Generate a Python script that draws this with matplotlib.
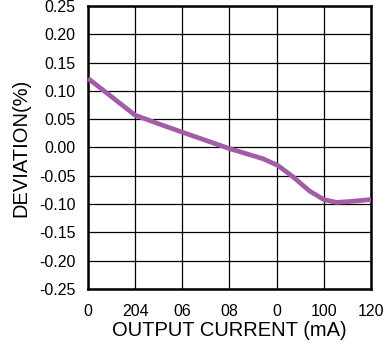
import numpy as np
import matplotlib
matplotlib.use('Agg')
import matplotlib.pyplot as plt

plt.rcParams['font.family'] = ['Liberation Sans', 'DejaVu Sans']

# 数据
current = [0, 6.5, 20, 30.5, 40, 60, 74.3, 80.6, 87, 94, 100, 105.4, 112.3, 120]
deviation = [0.122, 0.101, 0.057, 0.041, 0.027, -0.002, -0.020, -0.032, -0.052,
             -0.077, -0.092, -0.097, -0.095, -0.092]
x_ticks = [0, 20, 40, 60, 80, 100, 120]
x_labels = ['0', '204', '06', '08', '0', '100', '120']
y_ticks = [0.25, 0.20, 0.15, 0.10, 0.05, 0.00, -0.05, -0.10, -0.15, -0.20, -0.25]
y_labels = ['%.2f' % v for v in y_ticks]

fig = plt.figure(figsize=(3.86, 3.52), dpi=100)
ax = fig.add_axes([0.228, 0.179, 0.733, 0.804])
ax.plot(current, deviation, color='#A35CA8', linewidth=3.4,
        solid_capstyle='butt', solid_joinstyle='round', clip_on=False, zorder=3)

ax.set_xlim(0, 120)
ax.set_ylim(-0.25, 0.25)
ax.set_xticks(x_ticks)
ax.set_xticklabels(x_labels)
ax.set_yticks(y_ticks)
ax.set_yticklabels(y_labels)
ax.tick_params(length=0, labelsize=11.5)
ax.tick_params(axis='x', pad=11)
ax.tick_params(axis='y', pad=9)
ax.grid(True, color='black', linewidth=0.9)
for s in ax.spines.values():
    s.set_linewidth(1.8)

ax.set_xlabel('OUTPUT CURRENT (mA)', fontsize=14.5, labelpad=1)
ax.set_ylabel('DEVIATION(%)', fontsize=14.5, labelpad=6)

fig.savefig('out.png', dpi=100)
